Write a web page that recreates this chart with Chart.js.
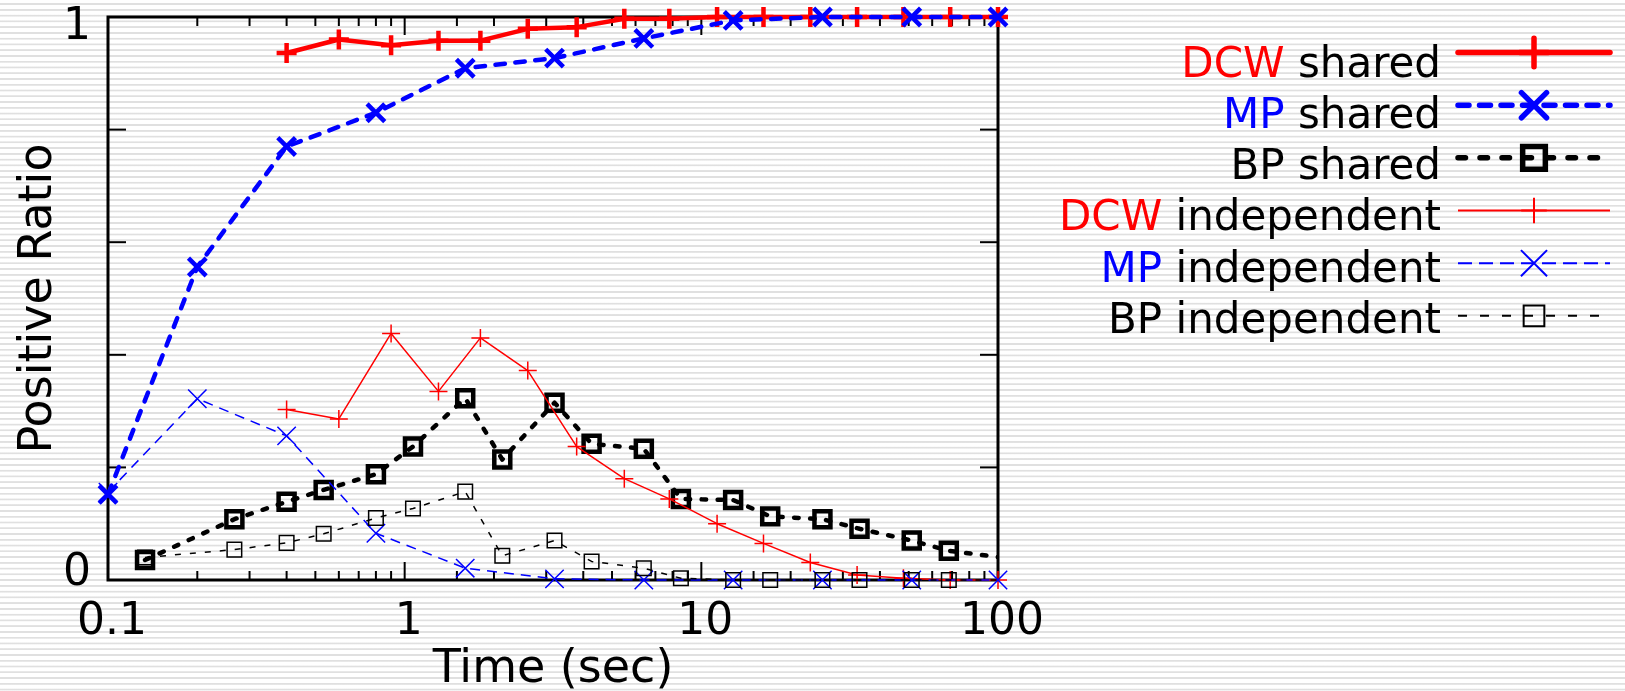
<!DOCTYPE html>
<html><head><meta charset="utf-8">
<script src="https://cdn.jsdelivr.net/npm/chart.js@4.4.1/dist/chart.umd.min.js"></script>
<style>
html,body{margin:0;padding:0;}
body{width:1625px;height:691px;overflow:hidden;
background:repeating-linear-gradient(to bottom,#ffffff 0px,#ffffff 2.9px,#e0e0e0 3.5px,#e0e0e0 4.7px,#ffffff 5.3px,#ffffff 5.76px);}
canvas{display:block;}
</style></head><body>
<canvas id="c" width="1625" height="691"></canvas>
<script>
// ---- data ----
const xTickLabels = ['0.1', '1', '10', '100'];
const yTickLabels = ['0', '1'];
const xTitle = 'Time (sec)';
const yTitle = 'Positive Ratio';

const dcwTimes = [0.4, 0.6, 0.9, 1.3, 1.8, 2.6, 3.8, 5.5, 7.8, 11.3, 16.2, 23.3, 33.5, 48, 69, 100];
const dcwShared = [0.936, 0.96, 0.95, 0.958, 0.958, 0.979, 0.982, 0.997, 0.997, 1, 1, 1, 1, 1, 1, 1];
const dcwIndependent = [0.303, 0.286, 0.438, 0.335, 0.43, 0.372, 0.237, 0.18, 0.144, 0.10, 0.065, 0.031, 0.009, 0.003, 0, 0];

const mpTimes = [0.1, 0.2, 0.4, 0.8, 1.6, 3.2, 6.4, 12.8, 25.6, 51.2, 100];
const mpShared = [0.152, 0.556, 0.77, 0.83, 0.909, 0.927, 0.962, 0.994, 1, 1, 1];
const mpIndependent = [0.156, 0.322, 0.256, 0.083, 0.021, 0.002, 0, 0, 0, 0, 0];

const bpTimes = [0.1333, 0.2667, 0.4, 0.5333, 0.8, 1.0667, 1.6, 2.1333, 3.2, 4.2667, 6.4, 8.5333, 12.8, 17.0667, 25.6, 34.1333, 51.2, 68.2667, 102.4];
const bpShared = [0.0355, 0.108, 0.139, 0.16, 0.188, 0.237, 0.323, 0.214, 0.315, 0.242, 0.233, 0.144, 0.142, 0.113, 0.108, 0.091, 0.07, 0.052, 0.04];
const bpIndependent = [0.04, 0.054, 0.066, 0.082, 0.11, 0.127, 0.157, 0.043, 0.07, 0.033, 0.021, 0.003, 0, 0, 0, 0, 0, 0, 0];

const methodNames = ['DCW', 'MP', 'BP', 'DCW', 'MP', 'BP'];
const modeNames = ['shared', 'shared', 'shared', 'independent', 'independent', 'independent'];

const X_MIN = 0.1, X_MAX = 100;
const RED = '#ff0000', BLUE = '#0000ff', BLACK = '#000000';
const FONT = "'DejaVu Sans', 'Verdana', sans-serif";

function pts(xs, ys) { return xs.map((x, i) => ({ x: x, y: ys[i] })); }
const noClipRight = { left: false, top: false, right: 0, bottom: false };

function ds(name, mode, xs, ys, color, width, dash, cap, style, radius, order, clip, keyWidth, keyDash) {
  return {
    label: name + ' ' + mode, method: name, mode: mode,
    data: pts(xs, ys), showLine: true, tension: 0, order: order,
    borderColor: color, borderWidth: width, borderDash: dash,
    borderCapStyle: cap, borderJoinStyle: 'round',
    pointStyle: style,
    pointRadius: ctx => (ctx.raw && ctx.raw.x > X_MAX) ? 0 : radius,
    markerRadius: radius, keyWidth: keyWidth, keyDash: keyDash,
    pointBorderColor: color, pointBorderWidth: width,
    pointBackgroundColor: 'rgba(0,0,0,0)',
    clip: clip
  };
}

const datasets = [
  ds(methodNames[0], modeNames[0], dcwTimes, dcwShared, RED, 4.5, [], 'round', 'cross', 10, 6, false, 5.5, []),
  ds(methodNames[1], modeNames[1], mpTimes, mpShared, BLUE, 4.5, [9.5, 10.5], 'round', 'crossRot', 12.5, 5, false, 5.5, [11, 10.5]),
  ds(methodNames[2], modeNames[2], bpTimes, bpShared, BLACK, 4.5, [4.5, 11.5], 'round', 'rect', 11.3, 4, noClipRight, 5.5, [7.5, 14.5]),
  ds(methodNames[3], modeNames[3], dcwTimes, dcwIndependent, RED, 1.5, [], 'butt', 'cross', 9, 3, false, 2, []),
  ds(methodNames[4], modeNames[4], mpTimes, mpIndependent, BLUE, 1.5, [10, 7], 'butt', 'crossRot', 13, 2, false, 2, [14, 7]),
  ds(methodNames[5], modeNames[5], bpTimes, bpIndependent, BLACK, 1.5, [6, 9], 'butt', 'rect', 10.3, 1, noClipRight, 2, [9, 13])
];
const methodColors = { DCW: RED, MP: BLUE, BP: BLACK };
const KEY_MARKER_SCALE = 1.42;

function isPow10(v) { const l = Math.log10(v); return Math.abs(l - Math.round(l)) < 1e-6; }

function line(ctx, x0, y0, x1, y1) { ctx.beginPath(); ctx.moveTo(x0, y0); ctx.lineTo(x1, y1); ctx.stroke(); }

const framePlugin = {
  id: 'frame',
  beforeDatasetsDraw(chart) {
    const ctx = chart.ctx, ca = chart.chartArea, xs = chart.scales.x, ys = chart.scales.y;
    ctx.save();
    ctx.strokeStyle = '#000';
    ctx.lineWidth = 2;
    xs.ticks.forEach(t => {
      const v = t.value;
      if (v < X_MIN * 0.999 || v > X_MAX * 1.001) return;
      const px = xs.getPixelForValue(v);
      const len = isPow10(v) ? 18 : 9;
      line(ctx, px, ca.bottom, px, ca.bottom - len);
      line(ctx, px, ca.top, px, ca.top + len);
    });
    ys.ticks.forEach(t => {
      const py = ys.getPixelForValue(t.value);
      line(ctx, ca.left, py, ca.left + 18, py);
      line(ctx, ca.right, py, ca.right - 18, py);
    });
    ctx.lineWidth = 3;
    ctx.strokeRect(ca.left, ca.top, ca.right - ca.left, ca.bottom - ca.top);
    ctx.restore();
  },
  afterDraw(chart) {
    const ctx = chart.ctx, ca = chart.chartArea, xs = chart.scales.x, ys = chart.scales.y;
    ctx.save();
    ctx.fillStyle = '#000';
    ctx.font = '44px ' + FONT;
    ctx.textAlign = 'center';
    ctx.textBaseline = 'alphabetic';
    xTickLabels.forEach(lbl => {
      const px = xs.getPixelForValue(parseFloat(lbl));
      ctx.fillText(lbl, px + 4, ca.bottom + 54);
    });
    ctx.textAlign = 'right';
    ctx.textBaseline = 'middle';
    yTickLabels.forEach(lbl => {
      const v = parseFloat(lbl);
      const py = ys.getPixelForValue(v);
      ctx.fillText(lbl, ca.left - 17, py + (v >= 1 ? 11 : -6));
    });
    // axis titles
    ctx.font = '46px ' + FONT;
    ctx.textAlign = 'center';
    ctx.textBaseline = 'alphabetic';
    ctx.fillText(xTitle, (ca.left + ca.right) / 2, ca.bottom + 102);
    ctx.save();
    ctx.translate(51, (ca.top + ca.bottom) / 2);
    ctx.rotate(-Math.PI / 2);
    ctx.fillText(yTitle, 0, 0);
    ctx.restore();

    // key
    const textRight = ca.right + 443;
    const sx0 = ca.right + 460, sx1 = ca.right + 612, mx = (sx0 + sx1) / 2;
    ctx.font = '42px ' + FONT;
    chart.data.datasets.forEach((d, i) => {
      const baseY = ca.top + 59.5 + 51.3 * i;
      const lineY = ca.top + 35.5 + 52.66 * i;
      const part2 = ' ' + d.mode;
      const w1 = ctx.measureText(d.method).width, w2 = ctx.measureText(part2).width;
      ctx.textAlign = 'left';
      ctx.fillStyle = methodColors[d.method];
      ctx.fillText(d.method, textRight - w1 - w2, baseY);
      ctx.fillStyle = '#000';
      ctx.fillText(part2, textRight - w2, baseY);
      // sample line
      ctx.save();
      ctx.strokeStyle = d.borderColor;
      ctx.lineWidth = d.keyWidth;
      ctx.lineCap = d.borderCapStyle;
      ctx.setLineDash(d.keyDash);
      line(ctx, sx0, lineY, sx1, lineY);
      ctx.setLineDash([]);
      const r = d.markerRadius * KEY_MARKER_SCALE;
      ctx.beginPath();
      if (d.pointStyle === 'cross') {
        ctx.moveTo(mx - r, lineY); ctx.lineTo(mx + r, lineY);
        ctx.moveTo(mx, lineY - r); ctx.lineTo(mx, lineY + r);
      } else if (d.pointStyle === 'crossRot') {
        const q = r * Math.SQRT1_2;
        ctx.moveTo(mx - q, lineY - q); ctx.lineTo(mx + q, lineY + q);
        ctx.moveTo(mx + q, lineY - q); ctx.lineTo(mx - q, lineY + q);
      } else {
        const s = r * Math.SQRT1_2;
        ctx.lineCap = 'butt';
        ctx.rect(mx - s, lineY - s, 2 * s, 2 * s);
      }
      ctx.stroke();
      ctx.restore();
    });
    ctx.restore();
  }
};

new Chart(document.getElementById('c'), {
  type: 'scatter',
  data: { datasets: datasets },
  options: {
    responsive: false,
    animation: false,
    events: [],
    devicePixelRatio: 1,
    layout: { padding: { left: 0, top: 17, right: 627, bottom: 0 } },
    plugins: { legend: { display: false }, tooltip: { enabled: false } },
    scales: {
      x: {
        type: 'logarithmic', min: X_MIN, max: X_MAX,
        grid: { display: false }, border: { display: false },
        ticks: { display: false, autoSkip: false },
        afterFit: s => { s.height = 111; }
      },
      y: {
        type: 'linear', min: 0, max: 1,
        grid: { display: false }, border: { display: false },
        ticks: { display: false, stepSize: 0.2 },
        afterFit: s => { s.width = 108; }
      }
    }
  },
  plugins: [framePlugin]
});
</script>
</body></html>
